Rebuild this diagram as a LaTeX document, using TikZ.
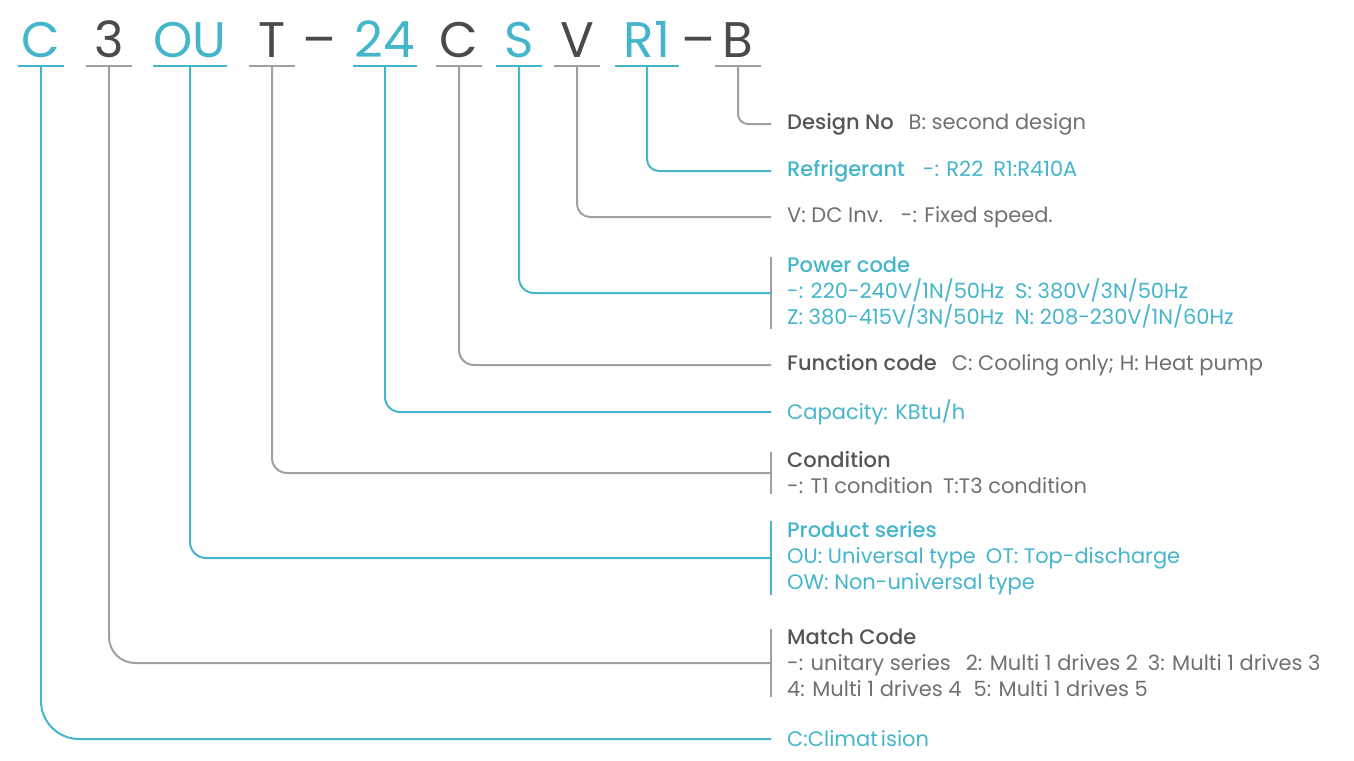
\documentclass[tikz,border=0pt]{standalone}
\usepackage{fontspec}
\setmainfont{Poppins}[BoldFont={Poppins Medium}]
\usepackage{xcolor}
\usepackage{tikz}
\usetikzlibrary{positioning}
\definecolor{codeblue}{HTML}{45B5CC}
\definecolor{codedark}{HTML}{4A4A4A}
\definecolor{linegray}{HTML}{A0A0A0}
\definecolor{titlegray}{HTML}{555555}
\definecolor{labgray}{HTML}{707070}
\tikzset{
    code/.style={font=\fontsize{50}{50}\selectfont, anchor=base, text depth=0pt,
        inner xsep=0pt, inner ysep=9pt, minimum width=46pt},
    wide/.style={minimum width=63pt},
    lab/.style={font=\fontsize{21}{26}\selectfont, anchor=west, inner sep=0pt,
        align=left, text=labgray},
    bluelab/.style={lab, text=codeblue},
    bluelink/.style={draw=codeblue, line width=2pt, rounded corners=15pt},
    graylink/.style={draw=linegray, line width=2pt, rounded corners=15pt},
    bluebar/.style={draw=codeblue, line width=2.6pt},
    graybar/.style={draw=linegray, line width=2.6pt}
}

\begin{document}
\begin{tikzpicture}[x=1pt, y=-1pt]
    \useasboundingbox (0,0) rectangle (1354,760);

    \node[code, text=codeblue] (cC) at (41,57) {C};
    \node[code, text=codedark] (c3) at (109,57) {3};
    \node[code, wide, text=codeblue] (cOU) at (190,57) {OU};
    \node[code, text=codedark] (cT) at (272,57) {T};
    \node[code, text=codedark, minimum width=0pt] (d1) at (319,57) {–};
    \node[code, wide, text=codeblue] (c24) at (385,57) {24};
    \node[code, text=codedark] (cF) at (459,57) {C};
    \node[code, text=codeblue] (cS) at (519,57) {S};
    \node[code, text=codedark] (cV) at (577,57) {V};
    \node[code, wide, text=codeblue] (cR) at (647,57) {R1};
    \node[code, text=codedark, minimum width=0pt] (d2) at (698,57) {–};
    \node[code, text=codedark] (cB) at (738,57) {B};

    \draw[bluebar] (cC.south west) -- (cC.south east);
    \draw[graybar] (c3.south west) -- (c3.south east);
    \draw[bluebar] (cOU.south west) -- (cOU.south east);
    \draw[graybar] (cT.south west) -- (cT.south east);
    \draw[bluebar] (c24.south west) -- (c24.south east);
    \draw[graybar] (cF.south west) -- (cF.south east);
    \draw[bluebar] (cS.south west) -- (cS.south east);
    \draw[graybar] (cV.south west) -- (cV.south east);
    \draw[bluebar] (cR.south west) -- (cR.south east);
    \draw[graybar] (cB.south west) -- (cB.south east);

    \node[lab] (lB) at (787,124) {{\color{titlegray}\bfseries Design No}\hspace{15pt}B: second design};
    \node[bluelab] (lR) at (787,171) {{\bfseries Refrigerant}\hspace{18pt}-: R22\hspace{10pt}R1:R410A};
    \node[lab] (lV) at (787,217) {V: DC Inv.\hspace{18pt}-: Fixed speed.};
    \node[bluelab] (lS) at (787,293) {{\bfseries Power code}\\
        -: 220-240V/1N/50Hz\hspace{11pt}S: 380V/3N/50Hz\\
        Z: 380-415V/3N/50Hz\hspace{11pt}N: 208-230V/1N/60Hz};
    \node[lab] (lF) at (787,365) {{\color{titlegray}\bfseries Function code}\hspace{15pt}C: Cooling only; H: Heat pump};
    \node[bluelab] (l24) at (787,412) {Capacity: KBtu/h};
    \node[lab] (lT) at (787,473) {{\color{titlegray}\bfseries Condition}\\
        -: T1 condition\hspace{10pt}T:T3 condition};
    \node[bluelab] (lOU) at (787,558) {{\bfseries Product series}\\
        OU: Universal type\hspace{10pt}OT: Top-discharge\\
        OW: Non-universal type};
    \node[lab] (l3) at (787,663) {{\color{titlegray}\bfseries Match Code}\\
        -: unitary series\hspace{15pt}2: Multi 1 drives 2\hspace{10pt}3: Multi 1 drives 3\\
        4: Multi 1 drives 4\hspace{12pt}5: Multi 1 drives 5};
    \node[bluelab] (lC) at (787,739) {C:Climat\kern3pt ision};

    \draw[graybar, line width=2pt] ([xshift=-16pt]lS.north west) -- ([xshift=-16pt]lS.south west);
    \draw[graybar, line width=2pt] ([xshift=-16pt]lT.north west) -- ([xshift=-16pt]lT.south west);
    \draw[bluebar, line width=2pt] ([xshift=-16pt]lOU.north west) -- ([xshift=-16pt]lOU.south west);
    \draw[graybar, line width=2pt] ([xshift=-16pt]l3.north west) -- ([xshift=-16pt]l3.south west);

    \draw[graylink, rounded corners=10pt] (cB.south) |- ([xshift=-16pt]lB.west);
    \draw[bluelink, rounded corners=12pt] (cR.south) |- ([xshift=-16pt]lR.west);
    \draw[graylink, rounded corners=13pt] (cV.south) |- ([xshift=-16pt]lV.west);
    \draw[bluelink] (cS.south) |- ([xshift=-16pt]lS.west);
    \draw[graylink] (cF.south) |- ([xshift=-16pt]lF.west);
    \draw[bluelink] (c24.south) |- ([xshift=-16pt]l24.west);
    \draw[graylink] (cT.south) |- ([xshift=-16pt]lT.west);
    \draw[bluelink, rounded corners=16pt] (cOU.south) |- ([xshift=-16pt]lOU.west);
    \draw[graylink, rounded corners=26pt] (c3.south) |- ([xshift=-16pt]l3.west);
    \draw[bluelink, rounded corners=38pt] (cC.south) |- ([xshift=-16pt]lC.west);
\end{tikzpicture}
\end{document}
